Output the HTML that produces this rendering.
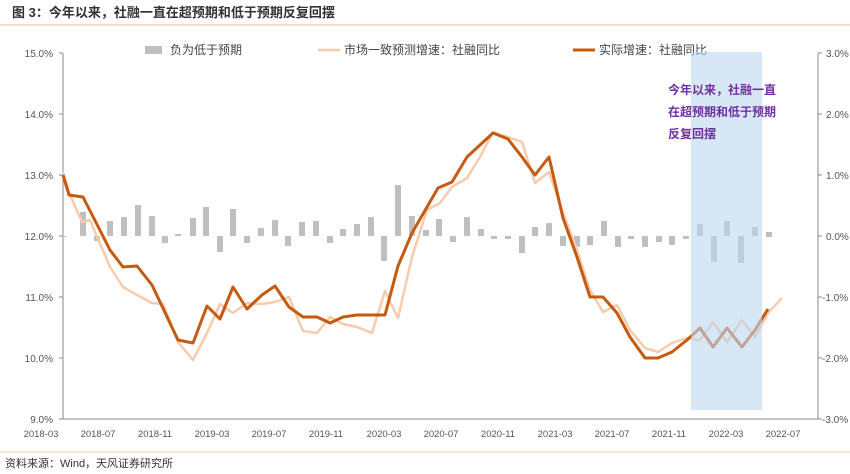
<!DOCTYPE html>
<html><head><meta charset="utf-8"><style>
body{margin:0;background:#fff;}
svg{display:block;font-family:"Liberation Sans","Noto Sans CJK SC",sans-serif;}
</style></head><body>
<svg width="850" height="474" viewBox="0 0 850 474">
<text x="12" y="17" font-size="13" font-weight="bold" fill="#333">图 3：今年以来，社融一直在超预期和低于预期反复回摆</text>
<line x1="0" y1="25" x2="850" y2="25" stroke="#f3d2b6" stroke-width="1.5"/>
<line x1="0" y1="452" x2="850" y2="452" stroke="#f3d2b6" stroke-width="1"/>
<text x="5" y="467" font-size="11" fill="#333">资料来源：Wind，天风证券研究所</text>

<g font-size="10" fill="#555" text-anchor="end">
<text x="53" y="57">15.0%</text><text x="53" y="118">14.0%</text><text x="53" y="179">13.0%</text>
<text x="53" y="240">12.0%</text><text x="53" y="301">11.0%</text><text x="53" y="362">10.0%</text><text x="53" y="423">9.0%</text>
</g>
<g font-size="10" fill="#555">
<text x="826" y="57">3.0%</text><text x="826" y="118">2.0%</text><text x="826" y="179">1.0%</text>
<text x="826" y="240">0.0%</text><text x="822" y="301">-1.0%</text><text x="822" y="362">-2.0%</text><text x="822" y="423">-3.0%</text>
</g>
<g stroke="#888" stroke-width="1">
<line x1="63" y1="53" x2="63" y2="419"/>
<line x1="63" y1="419" x2="818" y2="419"/>
<line x1="818" y1="53" x2="818" y2="419"/>
<path d="M59 53h4M59 114h4M59 175h4M59 236h4M59 297h4M59 358h4M59 419h4M818 53h4M818 114h4M818 175h4M818 236h4M818 297h4M818 358h4M818 419h4"/>
</g>
<g font-size="9.5" fill="#555" text-anchor="middle">
<text x="41" y="437">2018-03</text><text x="98" y="437">2018-07</text><text x="155" y="437">2018-11</text>
<text x="212" y="437">2019-03</text><text x="269" y="437">2019-07</text><text x="326" y="437">2019-11</text>
<text x="384" y="437">2020-03</text><text x="441" y="437">2020-07</text><text x="498" y="437">2020-11</text>
<text x="555" y="437">2021-03</text><text x="612" y="437">2021-07</text><text x="669" y="437">2021-11</text>
<text x="726" y="437">2022-03</text><text x="783" y="437">2022-07</text>
</g>

<!-- legend -->
<rect x="145" y="46" width="17" height="8" fill="#bfbfbf"/>
<text x="170" y="54" font-size="12" fill="#444">负为低于预期</text>
<line x1="318" y1="50" x2="340" y2="50" stroke="#f8cbad" stroke-width="2.5"/>
<text x="344" y="54" font-size="12" fill="#444">市场一致预测增速：社融同比</text>
<line x1="573" y1="50" x2="595" y2="50" stroke="#c55a11" stroke-width="3"/>
<text x="599" y="54" font-size="12" fill="#444">实际增速：社融同比</text>

<!-- bars -->
<g fill="#bfbfbf">
<path d="M60 236h6v1h-6z"/>
<rect x="80" y="212" width="6" height="24"/><rect x="94" y="236" width="6" height="5"/>
<rect x="107" y="221" width="6" height="15"/><rect x="121" y="217" width="6" height="19"/>
<rect x="135" y="205" width="6" height="31"/><rect x="149" y="216" width="6" height="20"/>
<rect x="162" y="236" width="6" height="7"/><rect x="175" y="234" width="6" height="2"/>
<rect x="190" y="218" width="6" height="18"/><rect x="203" y="207" width="6" height="29"/>
<rect x="217" y="236" width="6" height="16"/><rect x="230" y="209" width="6" height="27"/>
<rect x="244" y="236" width="6" height="7"/><rect x="258" y="228" width="6" height="8"/>
<rect x="272" y="220" width="6" height="16"/><rect x="285" y="236" width="6" height="10"/>
<rect x="299" y="222" width="6" height="14"/><rect x="313" y="221" width="6" height="15"/>
<rect x="327" y="236" width="6" height="7"/><rect x="340" y="229" width="6" height="7"/>
<rect x="354" y="224" width="6" height="12"/><rect x="368" y="217" width="6" height="19"/>
<rect x="381" y="236" width="6" height="25"/><rect x="395" y="185" width="6" height="51"/>
<rect x="409" y="216" width="6" height="20"/><rect x="423" y="230" width="6" height="6"/>
<rect x="436" y="219" width="6" height="17"/><rect x="450" y="236" width="6" height="6"/>
<rect x="464" y="217" width="6" height="19"/><rect x="478" y="229" width="6" height="7"/>
<rect x="491" y="236" width="6" height="3"/><rect x="505" y="236" width="6" height="3"/>
<rect x="519" y="236" width="6" height="17"/><rect x="532" y="227" width="6" height="9"/>
<rect x="546" y="223" width="6" height="13"/><rect x="560" y="236" width="6" height="10"/>
<rect x="574" y="236" width="6" height="11"/><rect x="587" y="236" width="6" height="9"/>
<rect x="601" y="221" width="6" height="15"/><rect x="615" y="236" width="6" height="11"/>
<rect x="628" y="236" width="6" height="3"/><rect x="642" y="236" width="6" height="11"/>
<rect x="656" y="236" width="6" height="6"/><rect x="669" y="236" width="6" height="9"/>
<rect x="683" y="236" width="6" height="3"/><rect x="697" y="224" width="6" height="12"/>
<rect x="711" y="236" width="6" height="26"/><rect x="724" y="221" width="6" height="15"/>
<rect x="738" y="236" width="6" height="27"/><rect x="752" y="227" width="6" height="9"/>
<rect x="766" y="232" width="6" height="5"/>
</g>

<polyline fill="none" stroke="#f8cbad" stroke-width="2.5" stroke-linejoin="round" points="63,172 70,195 82,222 90,220 110,267 123,287 137,295 152,303 163,304 178,342 193,360 207,333 220,304 233,313 247,303 262,304 275,302 289,297 303,331 317,333 330,317 343,324 357,327 372,333 385,291 398,318 412,257 427,210 440,203 452,187 467,178 480,157 493,132 508,137 522,142 535,183 549,172 563,213 577,250 590,290 603,312 617,305 630,330 645,348 658,352 672,343 687,338 700,340 713,322 727,342 742,320 755,337 768,313 782,298"/>
<polyline fill="none" stroke="#c55a11" stroke-width="3" stroke-linejoin="round" points="63,175 69,195 83,197 110,250 123,267 137,266 152,285 178,340 193,343 207,306 220,319 233,287 247,309 262,295 275,286 289,307 303,317 317,317 330,323 343,317 357,315 385,315 398,266 412,233 427,207 438,188 452,182 467,157 480,145 493,133 508,139 522,157 535,175 549,157 563,218 577,257 590,297 603,297 617,313 630,337 645,358 658,358 672,352 687,340 700,328 713,347 727,328 742,347 755,330 768,309"/>

<rect x="691" y="52" width="71" height="358" fill="#bdd7ee" fill-opacity="0.6"/>
<g font-size="12" font-weight="bold" fill="#7030a0">
<text x="668" y="94">今年以来，社融一直</text>
<text x="668" y="116">在超预期和低于预期</text>
<text x="668" y="138">反复回摆</text>
</g>
</svg>
</body></html>
